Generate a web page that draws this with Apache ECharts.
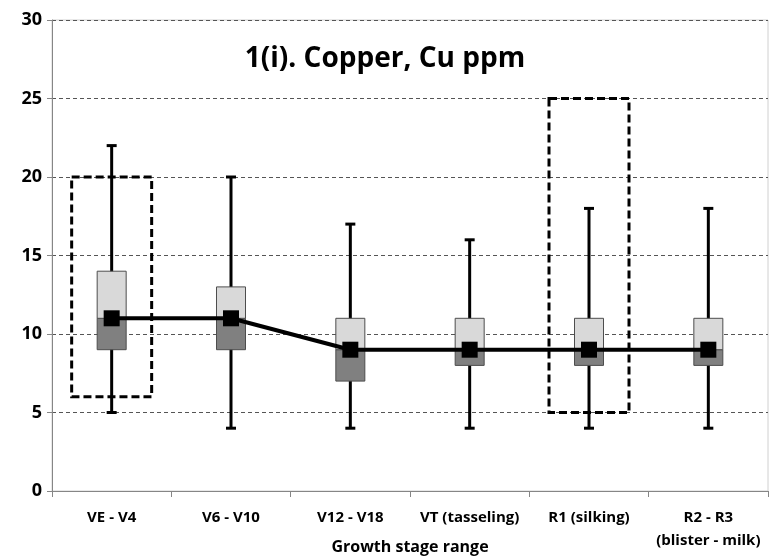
<!DOCTYPE html>
<html>
<head>
<meta charset="utf-8">
<script src="https://cdn.jsdelivr.net/npm/echarts@6/dist/echarts.min.js"></script>
<style>html,body{margin:0;padding:0;background:#fff}#c{width:771px;height:559px}</style>
</head>
<body>
<div id="c"></div>
<script>
var categories = ['VE - V4', 'V6 - V10', 'V12 - V18', 'VT (tasseling)', 'R1 (silking)', 'R2 - R3\n(blister - milk)'];
var mins    = [5, 4, 4, 4, 4, 4];
var q1s     = [9, 9, 7, 8, 8, 8];
var medians = [11, 11, 9, 9, 9, 9];
var q3s     = [14, 13, 11, 11, 11, 11];
var maxs    = [22, 20, 17, 16, 18, 18];
var suffLow  = [6, null, null, null, 5, null];
var suffHigh = [20, null, null, null, 25, null];
var yTicks = [0, 5, 10, 15, 20, 25, 30];

var FONT = '"Open Sans", "Liberation Sans", sans-serif';

var boxData = categories.map(function (c, i) {
  return [i, mins[i], q1s[i], medians[i], q3s[i], maxs[i]];
});
var suffData = [];
categories.forEach(function (c, i) {
  if (suffLow[i] != null) suffData.push([i, suffLow[i], suffHigh[i]]);
});

function renderBox(params, api) {
  var i = api.value(0);
  var pMin = api.coord([i, api.value(1)]);
  var pQ1 = api.coord([i, api.value(2)]);
  var pMed = api.coord([i, api.value(3)]);
  var pQ3 = api.coord([i, api.value(4)]);
  var pMax = api.coord([i, api.value(5)]);
  var x = pMin[0];
  var bw = 29, cw = 10;
  var ls = {stroke: '#000', lineWidth: 3};
  return {
    type: 'group',
    children: [
      {type: 'line', shape: {x1: x, y1: pMin[1], x2: x, y2: pMax[1]}, style: ls},
      {type: 'line', shape: {x1: x - cw / 2, y1: pMin[1], x2: x + cw / 2, y2: pMin[1]}, style: ls},
      {type: 'line', shape: {x1: x - cw / 2, y1: pMax[1], x2: x + cw / 2, y2: pMax[1]}, style: ls},
      {type: 'rect', shape: {x: x - bw / 2, y: pMed[1], width: bw, height: pQ1[1] - pMed[1]},
        style: {fill: '#808080', stroke: '#4d4d4d', lineWidth: 1}},
      {type: 'rect', shape: {x: x - bw / 2, y: pQ3[1], width: bw, height: pMed[1] - pQ3[1]},
        style: {fill: '#d9d9d9', stroke: '#4d4d4d', lineWidth: 1}}
    ]
  };
}

function renderSuff(params, api) {
  var i = api.value(0);
  var pLo = api.coord([i, api.value(1)]);
  var pHi = api.coord([i, api.value(2)]);
  var w = 80;
  return {
    type: 'rect',
    shape: {x: pLo[0] - w / 2, y: pHi[1], width: w, height: pLo[1] - pHi[1]},
    style: {fill: 'none', stroke: '#000', lineWidth: 3, lineDash: [8, 4]}
  };
}

var chart = echarts.init(document.getElementById('c'));
chart.setOption({
  animation: false,
  backgroundColor: '#fff',
  title: {
    text: '1(i). Copper, Cu ppm',
    left: 380, top: 40, textAlign: 'center',
    textStyle: {fontFamily: FONT, fontWeight: 'bold', fontSize: 28, color: '#000'}
  },
  grid: {left: 52, right: 3, top: 20, bottom: 68, outerBoundsMode: 'none', containLabel: false,
    show: true, borderColor: '#d0d0d0', borderWidth: 1},
  xAxis: {
    type: 'category',
    data: categories,
    boundaryGap: true,
    name: 'Growth stage range',
    nameLocation: 'middle',
    nameGap: 48,
    nameMoveOverlap: false,
    nameTextStyle: {fontFamily: FONT, fontWeight: 'bold', fontSize: 16, color: '#000', verticalAlign: 'top'},
    axisLine: {lineStyle: {color: '#868686', width: 1}},
    axisTick: {show: true, length: 6, lineStyle: {color: '#868686'}},
    axisLabel: {fontFamily: FONT, fontWeight: 'bold', fontSize: 15, color: '#000', margin: 15, interval: 0, lineHeight: 23},
    splitLine: {show: false}
  },
  yAxis: {
    type: 'value',
    min: yTicks[0], max: yTicks[yTicks.length - 1], interval: 5,
    axisLine: {show: true, lineStyle: {color: '#868686', width: 1}},
    axisTick: {show: true, length: 5, lineStyle: {color: '#868686'}},
    axisLabel: {fontFamily: FONT, fontWeight: 'bold', fontSize: 18, color: '#000', margin: 10},
    splitLine: {show: true, lineStyle: {color: '#555', type: [4, 3], width: 1}}
  },
  series: [
    {
      type: 'custom', name: 'suff', data: suffData, renderItem: renderSuff,
      encode: {x: 0, y: [1, 2]}, z: 2
    },
    {
      type: 'custom', name: 'box', data: boxData, renderItem: renderBox,
      encode: {x: 0, y: [1, 2, 3, 4, 5]}, z: 3
    },
    {
      type: 'line', name: 'median', data: medians,
      symbol: 'rect', symbolSize: 16,
      itemStyle: {color: '#000'},
      lineStyle: {color: '#000', width: 4},
      z: 4
    }
  ]
});
</script>
</body>
</html>
